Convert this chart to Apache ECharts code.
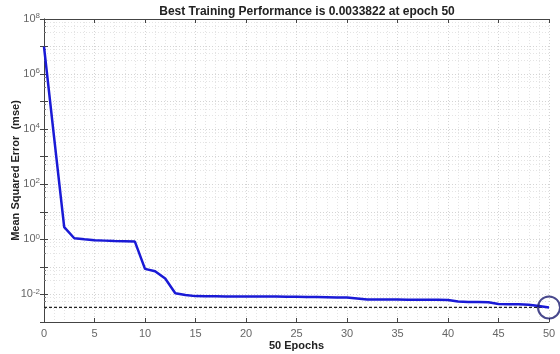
<!DOCTYPE html>
<html><head><meta charset="utf-8">
<script src="https://cdn.jsdelivr.net/npm/echarts@6/dist/echarts.min.js"></script>
<style>html,body{margin:0;padding:0;background:#fff}#c{width:560px;height:354px}</style>
</head><body><div id="c"></div>
<script>
const epochs = [0,1,2,3,4,5,6,7,8,9,10,11,12,13,14,15,16,17,18,19,20,21,22,23,24,25,26,27,28,29,30,31,32,33,34,35,36,37,38,39,40,41,42,43,44,45,46,47,48,49,50];
const trainMse = [1e7,5000,2.8,1.1,1.0,0.93,0.9,0.87,0.85,0.83,0.085,0.07,0.038,0.011,0.0095,0.0087,
  0.0086,0.0086,0.0085,0.0085,0.0085,0.0085,0.0084,0.0084,0.0083,0.0082,0.0081,0.008,0.0079,0.0078,0.0077,
  0.0072,0.0066,0.0065,0.0065,0.0065,0.0064,0.0064,0.0064,0.0064,0.0063,
  0.0055,0.0053,0.0053,0.0052,0.0045,0.0044,0.0044,0.0042,0.0038,0.0033822];
const bestEpoch = 50;
const bestValue = 0.0033822;
const xTicks = [0,5,10,15,20,25,30,35,40,45,50];
const yMin = 1e-3, yMax = 1e8;

const font = 'Liberation Sans, Arial, sans-serif';
const chart = echarts.init(document.getElementById('c'));
const supLabel = v => {
  const e = Math.round(Math.log10(v));
  if (e % 2 !== 0) return '';
  return '{b|10}{s|' + e + '}';
};
const gridLine = {show:true, lineStyle:{color:'#d4d4d4', type:[1,2], width:1}};
const minorGrid = {show:true, lineStyle:{color:'#e4e4e4', type:[1,2], width:1}};
chart.setOption({
  animation:false,
  backgroundColor:'#fff',
  title:{text:'Best Training Performance is 0.0033822 at epoch 50', left:302, textAlign:'center', top:1,
    textStyle:{fontFamily:font, fontSize:12, fontWeight:'bold', color:'#222'}},
  legend:{orient:'vertical', right:12, top:20, backgroundColor:'#fff', borderColor:'#000', borderWidth:1,
    padding:[4,5,5,5], itemGap:4, itemWidth:42, itemHeight:10,
    textStyle:{fontFamily:font, fontSize:11, color:'#222', padding:[0,0,0,2]},
    data:[{name:'Train', icon:'path://M0,0H1'}, {name:'Best', icon:'path://M0,0H1'}]},
  grid:{left:44, right:11, top:19, bottom:32, outerBoundsMode:'none', containLabel:false},
  xAxis:[{type:'value', min:0, max:50, interval:5,
      name:'50 Epochs', nameLocation:'middle', nameGap:18, nameMoveOverlap:false,
      nameTextStyle:{fontFamily:font, fontSize:11, fontWeight:'bold', color:'#222'},
      axisLine:{lineStyle:{color:'#444'}}, axisTick:{inside:true, length:4, lineStyle:{color:'#444'}},
      axisLabel:{fontFamily:font, fontSize:11, color:'#666', margin:6},
      splitLine:gridLine, minorTick:{show:false, splitNumber:5}, minorSplitLine:minorGrid},
    {type:'value', position:'top', min:0, max:50, interval:5,
      axisLine:{lineStyle:{color:'#444'}}, axisTick:{inside:true, length:4, lineStyle:{color:'#444'}},
      axisLabel:{show:false}, splitLine:{show:false}}],
  yAxis:[{type:'log', logBase:10, min:yMin, max:yMax, interval:1,
      name:'Mean Squared Error  (mse)', nameLocation:'middle', nameGap:23, nameMoveOverlap:false,
      nameTextStyle:{fontFamily:font, fontSize:11, fontWeight:'bold', color:'#222'},
      axisLine:{show:true, lineStyle:{color:'#666'}}, axisTick:{inside:true, length:4, lineStyle:{color:'#444'}},
      axisLabel:{formatter:supLabel, margin:4, rich:{b:{fontFamily:font, fontSize:11, color:'#666'}, s:{fontFamily:font, fontSize:8, color:'#666', verticalAlign:'top', padding:[0,0,6,0]}}},
      splitLine:gridLine, minorTick:{show:true, splitNumber:4, length:2, lineStyle:{color:'#777'}}, minorSplitLine:minorGrid},
    {type:'log', logBase:10, min:yMin, max:yMax, interval:1, position:'right',
      axisLine:{show:true, lineStyle:{color:'#444'}}, axisTick:{inside:true, length:4, lineStyle:{color:'#444'}},
      axisLabel:{show:false}, splitLine:{show:false}}],
  series:[
    {name:'Train', type:'line', data:epochs.map((e,i)=>[e,trainMse[i]]), showSymbol:false, symbol:'none',
      lineStyle:{color:'#1a1ad6', width:2.5}, itemStyle:{color:'#1a1ad6'}, z:3},
    {name:'Best', type:'line', data:[[0,bestValue],[50,bestValue]], showSymbol:false, symbol:'none',
      lineStyle:{color:'#222', width:1.3, type:[3,2]}, itemStyle:{color:'#222'}, z:2},
    {name:'BestPoint', type:'scatter', data:[[bestEpoch,bestValue]], symbol:'circle', symbolSize:22,
      itemStyle:{color:'rgba(0,0,0,0)', borderColor:'#1c1c70', borderWidth:2}, z:4, clip:false}
  ]
});
</script></body></html>
